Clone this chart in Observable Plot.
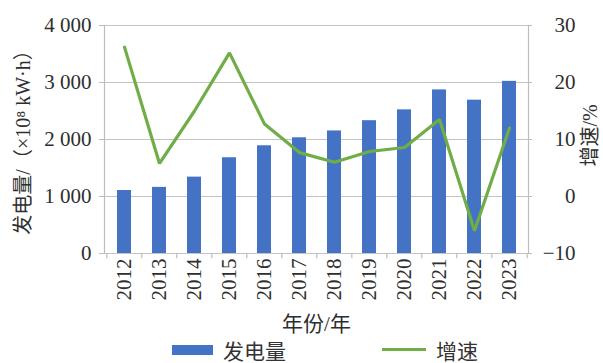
<!DOCTYPE html>
<html>
<head>
<meta charset="utf-8">
<script src="https://cdn.jsdelivr.net/npm/d3@7"></script>
<script src="https://cdn.jsdelivr.net/npm/@observablehq/plot@0.6"></script>
<style>
  html, body { margin: 0; padding: 0; background: #fff; }
  body { width: 603px; height: 363px; overflow: hidden; font-family: "Liberation Serif", "Noto Sans CJK SC", serif; color: #333; }
  #legend { display: flex; align-items: center; height: 27px; padding-left: 172px; font-size: 21px; }
  .sw-bar { width: 41px; height: 10px; background: #4472C4; margin-right: 10px; }
  .sw-line { width: 44px; height: 3px; background: #70AD47; margin-right: 10px; margin-left: 96px; }
</style>
</head>
<body>
<div id="chart"></div>
<div id="legend"><span class="sw-bar"></span><span>发电量</span><span class="sw-line"></span><span>增速</span></div>
<script>
const years = ["2012","2013","2014","2015","2016","2017","2018","2019","2020","2021","2022","2023"];
const generation = [1105, 1160, 1340, 1680, 1890, 2030, 2150, 2330, 2520, 2870, 2690, 3020];
const growth = [26.2, 5.8, 15.0, 25.2, 12.7, 7.7, 6.0, 7.9, 8.6, 13.5, -6.0, 12.0];
const leftTicks = [0, 1000, 2000, 3000, 4000];
const rightTicks = [-10, 0, 10, 20, 30];

const W = 603, H = 336, ML = 104, MR = 75, MT = 25, MB = 83;
const rightToLeft = g => (g + 10) * 100; // map -10..30 onto 0..4000
const step = (W - ML - MR) / years.length;

const rows = years.map((y, i) => ({year: y, gen: generation[i], g: growth[i], gy: rightToLeft(growth[i])}));
const spaceFmt = d3.formatLocale({decimal: ".", thousands: " ", grouping: [3], currency: ["", ""]}).format(",");
const fontFam = '"Liberation Serif", "Noto Sans CJK SC", serif';

const chart = Plot.plot({
  width: W, height: H,
  marginLeft: ML, marginRight: MR, marginTop: MT, marginBottom: MB,
  style: {fontFamily: fontFam, fontSize: "21px", color: "#2e2e2e", background: "#fff"},
  x: {type: "band", domain: years, paddingInner: 0.6, paddingOuter: 0.3},
  y: {domain: [0, 4000]},
  marks: [
    Plot.ruleY(leftTicks, {stroke: "#c4c4c4", strokeWidth: 1.2}),
    Plot.frame({anchor: "left", stroke: "#bdbdbd", strokeWidth: 1.2}),
    Plot.frame({anchor: "right", stroke: "#bdbdbd", strokeWidth: 1.2}),
    Plot.ruleX(years, {x: d => d, y1: 0, y2: -90, dx: -step / 2, stroke: "#bdbdbd", strokeWidth: 1.2}),
    Plot.ruleX(years.slice(-1), {x: d => d, y1: 0, y2: -90, dx: step / 2, stroke: "#bdbdbd", strokeWidth: 1.2}),
    Plot.barY(rows, {x: "year", y: "gen", fill: "#4472C4"}),
    Plot.line(rows, {x: "year", y: "gy", stroke: "#70AD47", strokeWidth: 3.2, strokeLinejoin: "miter"}),
    Plot.axisY({anchor: "left", ticks: leftTicks, tickFormat: spaceFmt, tickSize: 5, tickPadding: 8, stroke: "#bdbdbd", label: null, fontSize: 21, fontFamily: fontFam}),
    Plot.axisY({anchor: "right", ticks: leftTicks, tickFormat: d => { const g = d / 100 - 10; return g < 0 ? "\u2212" + (-g) : String(g); },
      tickSize: 3, tickPadding: 44, textAnchor: "end", stroke: "#bdbdbd", label: null, fontSize: 21, fontFamily: fontFam}),
    Plot.axisX({anchor: "bottom", tickRotate: -90, tickSize: 0, tickPadding: 5, label: "年份/年", labelAnchor: "center", labelOffset: 77, fontSize: 21, fontFamily: fontFam}),
    Plot.text(["发电量/（×10⁸ kW·h）"], {frameAnchor: "left", textAnchor: "middle", rotate: -90, dx: -81, dy: -2, fontSize: 20, fill: "#2e2e2e", fontFamily: fontFam}),
    Plot.text(["增速/%"], {frameAnchor: "right", textAnchor: "middle", rotate: -90, dx: 62, dy: -4, fontSize: 20, fill: "#2e2e2e", fontFamily: fontFam})
  ]
});
document.getElementById("chart").appendChild(chart);
</script>
</body>
</html>
